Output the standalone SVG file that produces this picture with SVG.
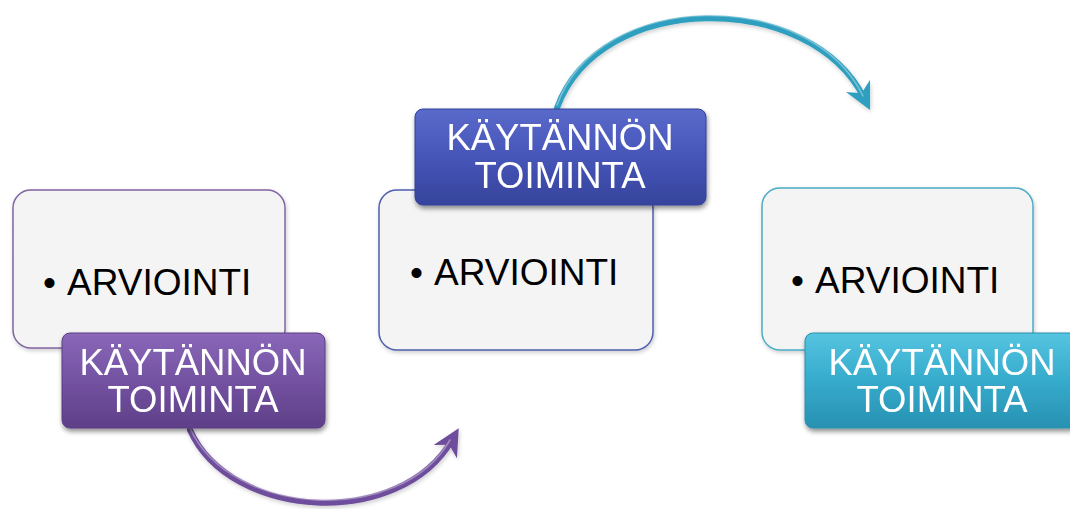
<svg xmlns="http://www.w3.org/2000/svg" width="1070" height="509" viewBox="0 0 1070 509">
  <style>
    .card { fill: #f4f4f4; stroke-width: 1.5; filter: url(#soft); }
    .item { font-family: "Liberation Sans", Arial, sans-serif; font-size: 37px; fill: #000; }
    .tag-text { font-family: "Liberation Sans", Arial, sans-serif; font-size: 36.5px; fill: #fff; text-anchor: middle; }
    .tag { filter: url(#drop); }
    .arc { fill: none; stroke-width: 6; stroke-linecap: round; filter: url(#soft); }
    .arc-hi { fill: none; stroke-width: 1.6; stroke-linecap: round; stroke: #fff; stroke-opacity: 0.35; }
  </style>
  <defs>
    <filter id="drop" x="-10%" y="-10%" width="125%" height="135%">
      <feGaussianBlur in="SourceAlpha" stdDeviation="2.5"/>
      <feOffset dx="1" dy="3" result="b"/>
      <feComponentTransfer><feFuncA type="linear" slope="0.45"/></feComponentTransfer>
      <feMerge><feMergeNode/><feMergeNode in="SourceGraphic"/></feMerge>
    </filter>
    <filter id="soft" x="-10%" y="-10%" width="125%" height="135%">
      <feGaussianBlur in="SourceAlpha" stdDeviation="2"/>
      <feOffset dx="1" dy="2"/>
      <feComponentTransfer><feFuncA type="linear" slope="0.2"/></feComponentTransfer>
      <feMerge><feMergeNode/><feMergeNode in="SourceGraphic"/></feMerge>
    </filter>
    <linearGradient id="gPurple" x1="0" y1="0" x2="0" y2="1">
      <stop offset="0" stop-color="#8a67b8"/>
      <stop offset="0.5" stop-color="#7452a2"/>
      <stop offset="1" stop-color="#5e3f88"/>
    </linearGradient>
    <linearGradient id="gBlue" x1="0" y1="0" x2="0" y2="1">
      <stop offset="0" stop-color="#5a6acb"/>
      <stop offset="0.5" stop-color="#4655b8"/>
      <stop offset="1" stop-color="#36449c"/>
    </linearGradient>
    <linearGradient id="gTeal" x1="0" y1="0" x2="0" y2="1">
      <stop offset="0" stop-color="#55c4e0"/>
      <stop offset="0.5" stop-color="#36abcc"/>
      <stop offset="1" stop-color="#2891b2"/>
    </linearGradient>
    <marker id="headPurple" viewBox="0 0 10 10" refX="5" refY="5" markerWidth="4.5" markerHeight="4.5" orient="auto" markerUnits="strokeWidth">
      <path d="M0,0 L10,5 L0,10 L3,5 Z" fill="#6e4d9c"/>
    </marker>
    <marker id="headTeal" viewBox="0 0 10 10" refX="5" refY="5" markerWidth="4.5" markerHeight="4.5" orient="auto" markerUnits="strokeWidth">
      <path d="M0,0 L10,5 L0,10 L3,5 Z" fill="#2f9fbf"/>
    </marker>
  </defs>

  <!-- connectors -->
  <g id="connectors">
    <path class="arc" stroke="#6e4d9c" d="M190,430 C230,520 400,530 452,440" marker-end="url(#headPurple)"/>
    <path class="arc-hi" d="M190,428 C230,517 400,527 450,440"/>
    <path class="arc" stroke="#2f9fbf" d="M557,108 C600,-10 810,-10 864,98" marker-end="url(#headTeal)"/>
    <path class="arc-hi" d="M557,105 C600,-13 810,-13 863,96"/>
  </g>

  <!-- step 1 -->
  <g id="step1">
    <rect class="card" x="13" y="190" width="272" height="158" rx="18" stroke="#8064a2"/>
    <text class="item" y="295"><tspan x="43">•</tspan><tspan x="67">ARVIOINTI</tspan></text>
  </g>
  <g id="tag1" class="tag">
    <rect x="62" y="333" width="263" height="95" rx="8" fill="url(#gPurple)" stroke="#5a3d82" stroke-width="1"/>
    <text class="tag-text" x="193" y="375">KÄYTÄNNÖN</text>
    <text class="tag-text" x="193" y="412">TOIMINTA</text>
  </g>

  <!-- step 2 -->
  <g id="step2">
    <rect class="card" x="379" y="190" width="274" height="160" rx="18" stroke="#4f5fb0"/>
    <text class="item" y="285"><tspan x="410">•</tspan><tspan x="434">ARVIOINTI</tspan></text>
  </g>
  <g id="tag2" class="tag">
    <rect x="415" y="109" width="291" height="96" rx="8" fill="url(#gBlue)" stroke="#33409a" stroke-width="1"/>
    <text class="tag-text" x="560" y="150">KÄYTÄNNÖN</text>
    <text class="tag-text" x="560" y="188">TOIMINTA</text>
  </g>

  <!-- step 3 -->
  <g id="step3">
    <rect class="card" x="762" y="188" width="271" height="162" rx="18" stroke="#4bacc6"/>
    <text class="item" y="293"><tspan x="791">•</tspan><tspan x="815">ARVIOINTI</tspan></text>
  </g>
  <g id="tag3" class="tag">
    <rect x="805" y="333" width="272" height="95" rx="8" fill="url(#gTeal)" stroke="#2a8fae" stroke-width="1"/>
    <text class="tag-text" x="942" y="375">KÄYTÄNNÖN</text>
    <text class="tag-text" x="942" y="412">TOIMINTA</text>
  </g>
</svg>
